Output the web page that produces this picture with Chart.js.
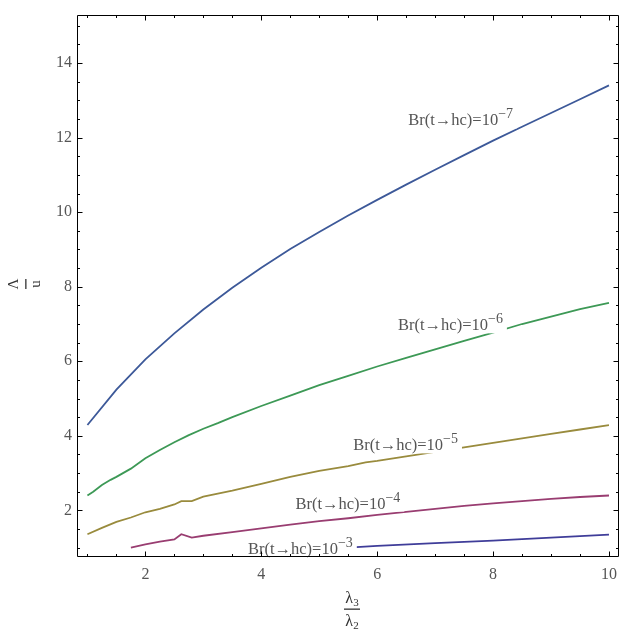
<!DOCTYPE html>
<html>
<head>
<meta charset="utf-8">
<script src="https://cdn.jsdelivr.net/npm/chart.js@4.4.0/dist/chart.umd.min.js"></script>
<style>
html,body{margin:0;padding:0;background:#fff;}
canvas{display:block;}
</style>
</head>
<body>
<canvas id="c" width="625" height="630"></canvas>
<script>
// ---- data ----
const xTicks = [2, 4, 6, 8, 10];
const yTicks = [2, 4, 6, 8, 10, 12, 14];

const xBr7 = [1,1.5,2,2.5,3,3.5,4,4.5,5,5.5,6,6.5,7,7.5,8,8.5,9,9.5,10];
const yBr7 = [4.29,5.24,6.05,6.75,7.39,7.97,8.51,9.01,9.47,9.91,10.33,10.74,11.14,11.53,11.92,12.29,12.66,13.03,13.40];

const xBr6 = [1,1.1,1.25,1.4,1.5,1.75,2,2.25,2.5,2.75,3,3.25,3.5,4,4.5,5,5.5,6,6.5,7,7.5,8,8.5,9,9.5,10];
const yBr6 = [2.40,2.50,2.68,2.82,2.90,3.12,3.40,3.62,3.83,4.02,4.19,4.34,4.50,4.80,5.08,5.36,5.61,5.86,6.09,6.32,6.55,6.77,7.00,7.20,7.40,7.57];

const xBr5 = [1,1.25,1.5,1.75,2,2.25,2.5,2.62,2.8,3,3.5,4,4.5,5,5.5,5.8,6,6.5,7,7.5,8,8.5,9,9.5,10];
const yBr5 = [1.36,1.53,1.69,1.81,1.95,2.04,2.16,2.25,2.25,2.37,2.53,2.71,2.90,3.06,3.19,3.29,3.33,3.45,3.57,3.69,3.81,3.93,4.05,4.17,4.29];

const xBr4 = [1.75,2,2.25,2.5,2.62,2.8,3,3.5,4,4.5,5,5.5,6,6.5,7,7.5,8,8.5,9,9.5,10];
const yBr4 = [1.00,1.09,1.16,1.22,1.36,1.27,1.32,1.42,1.52,1.62,1.71,1.79,1.88,1.96,2.04,2.12,2.19,2.25,2.31,2.36,2.40];

const xBr3 = [5.57,6,7,8,9,10];
const yBr3 = [1.01,1.05,1.12,1.19,1.27,1.35];

const labelText = ['Br(t\u2192hc)=10','Br(t\u2192hc)=10','Br(t\u2192hc)=10','Br(t\u2192hc)=10','Br(t\u2192hc)=10'];
const labelExp  = ['\u22127','\u22126','\u22125','\u22124','\u22123'];
const labelX    = [6.535, 6.36, 5.585, 4.59, 3.77];
const labelY    = [12.33, 6.83, 3.61, 2.05, 0.835];

// ---- styles ----
const colors = ['#3D5999','#3D9956','#998B3D','#993D71','#3F3D99'];
const pts = (xs, ys) => xs.map((x, i) => ({x: x, y: ys[i]}));
const series = [[xBr7,yBr7],[xBr6,yBr6],[xBr5,yBr5],[xBr4,yBr4],[xBr3,yBr3]];

const SERIF = '"Liberation Serif","DejaVu Serif",serif';

const decor = {
  id: 'decor',
  afterDatasetsDraw(chart) {
    const ctx = chart.ctx, xs = chart.scales.x, ys = chart.scales.y;
    ctx.save();
    for (let i = 0; i < labelText.length; i++) {
      const px = xs.getPixelForValue(labelX[i]);
      const py = ys.getPixelForValue(labelY[i]);
      ctx.font = '16.5px ' + SERIF;
      const w1 = ctx.measureText(labelText[i]).width;
      ctx.font = '14px ' + SERIF;
      const w2 = ctx.measureText(labelExp[i]).width;
      ctx.fillStyle = '#fff';
      ctx.fillRect(px - 2, py - 19, w1 + w2 + 6, 22);
      ctx.fillStyle = '#555';
      ctx.textBaseline = 'alphabetic';
      ctx.textAlign = 'left';
      ctx.font = '16.5px ' + SERIF;
      ctx.fillText(labelText[i], px, py);
      ctx.font = '14px ' + SERIF;
      ctx.fillText(labelExp[i], px + w1, py - 7);
    }
    ctx.restore();
  },
  afterDraw(chart) {
    const ctx = chart.ctx, a = chart.chartArea, xs = chart.scales.x, ys = chart.scales.y;
    ctx.save();
    ctx.strokeStyle = '#000';
    ctx.lineWidth = 1;
    const L = Math.round(a.left) + 0.5, R = Math.round(a.right) - 0.5;
    const T = Math.round(a.top) + 0.5, B = Math.round(a.bottom) - 0.5;
    ctx.beginPath();
    ctx.moveTo(L, T); ctx.lineTo(R, T); ctx.lineTo(R, B); ctx.lineTo(L, B); ctx.closePath();
    ctx.stroke();
    ctx.beginPath();
    for (let v = 1; v <= 10.01; v += 0.5) {
      const p = Math.round(xs.getPixelForValue(v)) + 0.5;
      const len = (Math.abs(v / 2 - Math.round(v / 2)) < 1e-6) ? 5 : 2.5;
      ctx.moveTo(p, B); ctx.lineTo(p, B - len);
      ctx.moveTo(p, T); ctx.lineTo(p, T + len);
    }
    for (let v = 1; v <= 15.01; v += 0.5) {
      const p = Math.round(ys.getPixelForValue(v)) + 0.5;
      const len = (Math.abs(v / 2 - Math.round(v / 2)) < 1e-6) ? 5 : 2.5;
      ctx.moveTo(L, p); ctx.lineTo(L + len, p);
      ctx.moveTo(R, p); ctx.lineTo(R - len, p);
    }
    ctx.stroke();

    // y-axis title: fraction Λ / u rotated
    ctx.fillStyle = '#333';
    ctx.save();
    ctx.translate(26, 284);
    ctx.rotate(-Math.PI / 2);
    ctx.font = '15px ' + SERIF;
    ctx.textAlign = 'center';
    ctx.textBaseline = 'middle';
    ctx.fillText('\u039B', 0, -12);
    ctx.fillText('u', 0, 10);
    ctx.fillRect(-5, -0.8, 10, 1.3);
    ctx.restore();

    // x-axis title: fraction λ3 / λ2
    const cx = 352;
    ctx.textBaseline = 'alphabetic';
    ctx.textAlign = 'left';
    const drawSub = (base, sub, cy) => {
      ctx.font = '16px ' + SERIF;
      const w1 = ctx.measureText(base).width;
      ctx.font = '11px ' + SERIF;
      const w2 = ctx.measureText(sub).width;
      const x0 = cx - (w1 + w2) / 2;
      ctx.font = '16px ' + SERIF;
      ctx.fillText(base, x0, cy);
      ctx.font = '11px ' + SERIF;
      ctx.fillText(sub, x0 + w1, cy + 3);
    };
    drawSub('\u03BB', '3', 603);
    ctx.fillRect(cx - 8, 608.5, 16, 1.3);
    drawSub('\u03BB', '2', 626);
    ctx.restore();
  }
};

new Chart(document.getElementById('c'), {
  type: 'line',
  data: {
    datasets: series.map((s, i) => ({
      data: pts(s[0], s[1]),
      borderColor: colors[i],
      borderWidth: 1.8,
      pointRadius: 0,
      fill: false,
      tension: 0
    }))
  },
  options: {
    responsive: false,
    animation: false,
    events: [],
    layout: { padding: { top: 11, right: 1, left: 0, bottom: 0 } },
    plugins: { legend: { display: false }, tooltip: { enabled: false } },
    scales: {
      x: {
        type: 'linear', min: 0.82, max: 10.18,
        grid: { display: false, drawTicks: false },
        border: { display: false },
        ticks: { font: { family: SERIF, size: 16 }, color: '#555', padding: 8, maxRotation: 0, autoSkip: false },
        afterBuildTicks: s => { s.ticks = xTicks.map(v => ({ value: v })); },
        afterFit: s => { s.height = 73; }
      },
      y: {
        type: 'linear', min: 0.75, max: 15.3,
        grid: { display: false, drawTicks: false },
        border: { display: false },
        ticks: { font: { family: SERIF, size: 16 }, color: '#555', padding: 5, autoSkip: false },
        afterBuildTicks: s => { s.ticks = yTicks.map(v => ({ value: v })); },
        afterFit: s => { s.width = 77; }
      }
    }
  },
  plugins: [decor]
});
</script>
</body>
</html>
